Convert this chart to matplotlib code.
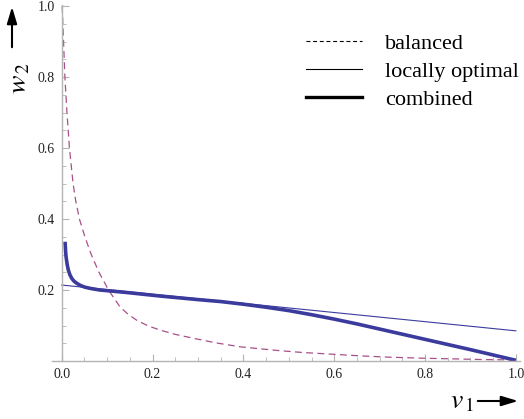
import matplotlib
matplotlib.use("Agg")
import matplotlib.pyplot as plt
from matplotlib.lines import Line2D
from matplotlib.patches import FancyArrowPatch
from matplotlib.ticker import MultipleLocator

plt.rcParams['font.family'] = ['Liberation Serif', 'DejaVu Serif']
plt.rcParams['mathtext.fontset'] = 'stix'

# balanced (dashed)
bal_x = [0.001, 0.004, 0.007, 0.0115, 0.017, 0.025, 0.031, 0.039, 0.051,
         0.065, 0.082, 0.103, 0.128, 0.145, 0.165, 0.19, 0.217, 0.25, 0.29,
         0.34, 0.393, 0.44, 0.481, 0.53, 0.584, 0.65, 0.716, 0.79, 0.862, 0.93, 1.0]
bal_y = [1.0, 0.9, 0.8, 0.7, 0.6, 0.5, 0.45, 0.4, 0.35,
         0.3, 0.25, 0.2, 0.153, 0.133, 0.115, 0.099, 0.087, 0.075, 0.064,
         0.051, 0.040, 0.034, 0.029, 0.024, 0.020, 0.015, 0.011, 0.008, 0.006, 0.004, 0.003]
# locally optimal (thin)
loc_x = [0.0, 1.0]
loc_y = [0.214, 0.085]
# combined (thick)
com_x = [0.0073, 0.0085, 0.0095, 0.012, 0.0146, 0.018, 0.022, 0.027, 0.033, 0.041,
         0.051, 0.065, 0.084, 0.11, 0.143, 0.18, 0.217, 0.25, 0.30, 0.35, 0.40,
         0.45, 0.50, 0.55, 0.60, 0.65, 0.70, 0.75, 0.80, 0.85, 0.90, 0.95, 1.0]
com_y = [0.336, 0.31, 0.294, 0.272, 0.256, 0.243, 0.233, 0.225, 0.219, 0.213,
         0.208, 0.204, 0.200, 0.197, 0.193, 0.188, 0.183, 0.179, 0.173, 0.1675, 0.160,
         0.1515, 0.142, 0.1305, 0.118, 0.1045, 0.090, 0.0755, 0.061, 0.0465, 0.032, 0.017, 0.002]

labels = ['balanced', 'locally optimal', 'combined']
xticks = [0.0, 0.2, 0.4, 0.6, 0.8, 1.0]
yticks = [0.2, 0.4, 0.6, 0.8, 1.0]

c_blue = '#3b3b9e'
c_pink = '#a8508a'
c_axis = '#b3b3b3'

fig = plt.figure(figsize=(5.24, 4.19), dpi=100)
ax = fig.add_axes([52/524, 58/419, 467.5/524, 356/419])
ax.set_xlim(-0.0214, 1.008)
ax.set_ylim(0, 1.003)

ax.plot(bal_x, bal_y, color=c_pink, lw=0.9, dashes=(5.5, 3.5))
ax.plot(loc_x, loc_y, color=c_blue, lw=0.8)
ax.plot(com_x, com_y, color=c_blue, lw=2.6, solid_capstyle='butt',
        solid_joinstyle='round')

for s in ['top', 'right']:
    ax.spines[s].set_visible(False)
ax.spines['left'].set_position(('data', 0))
for s in ['left', 'bottom']:
    ax.spines[s].set_color(c_axis)
    ax.spines[s].set_linewidth(1.0)

ax.set_xticks(xticks)
ax.set_xticklabels([f'{v:.1f}' for v in xticks])
ax.set_yticks(yticks)
ax.set_yticklabels([f'{v:.1f}' for v in yticks])
ax.xaxis.set_minor_locator(MultipleLocator(0.05))
ax.yaxis.set_minor_locator(MultipleLocator(0.05))
ax.tick_params(which='major', direction='in', length=5, width=0.8, color=c_axis,
               labelsize=10, labelcolor='#222222', pad=5)
ax.tick_params(which='minor', direction='in', length=3, width=0.6, color=c_axis)

handles = [Line2D([], [], color='black', lw=0.8, dashes=(3.5, 2.5)),
           Line2D([], [], color='black', lw=0.8),
           Line2D([], [], color='black', lw=2.4)]
leg = ax.legend(handles, labels, loc='upper left', bbox_to_anchor=(306/524, 1 - 33/419),
                bbox_transform=fig.transFigure, frameon=False, fontsize=16,
                handlelength=2.52, handletextpad=1.04, labelspacing=0.35,
                borderpad=0, borderaxespad=0)

fig.text(20/524, 1 - 78/419, r'$w_{\,2}$', rotation=90, fontsize=20,
         ha='center', va='center')
fig.text(462/524, 1 - 402/419, r'$v_{\,1}$', fontsize=20, ha='center', va='center')
fig.add_artist(FancyArrowPatch(
    (12/524, 1 - 50/419), (12/524, 1 - 4/419), transform=fig.transFigure,
    arrowstyle='-|>,head_length=10,head_width=3', color='black', lw=1.5,
    mutation_scale=1))
fig.add_artist(FancyArrowPatch(
    (475/524, 1 - 401/419), (521/524, 1 - 401/419), transform=fig.transFigure,
    arrowstyle='-|>,head_length=10,head_width=3', color='black', lw=1.5,
    mutation_scale=1))

fig.savefig('out.png', dpi=100)
